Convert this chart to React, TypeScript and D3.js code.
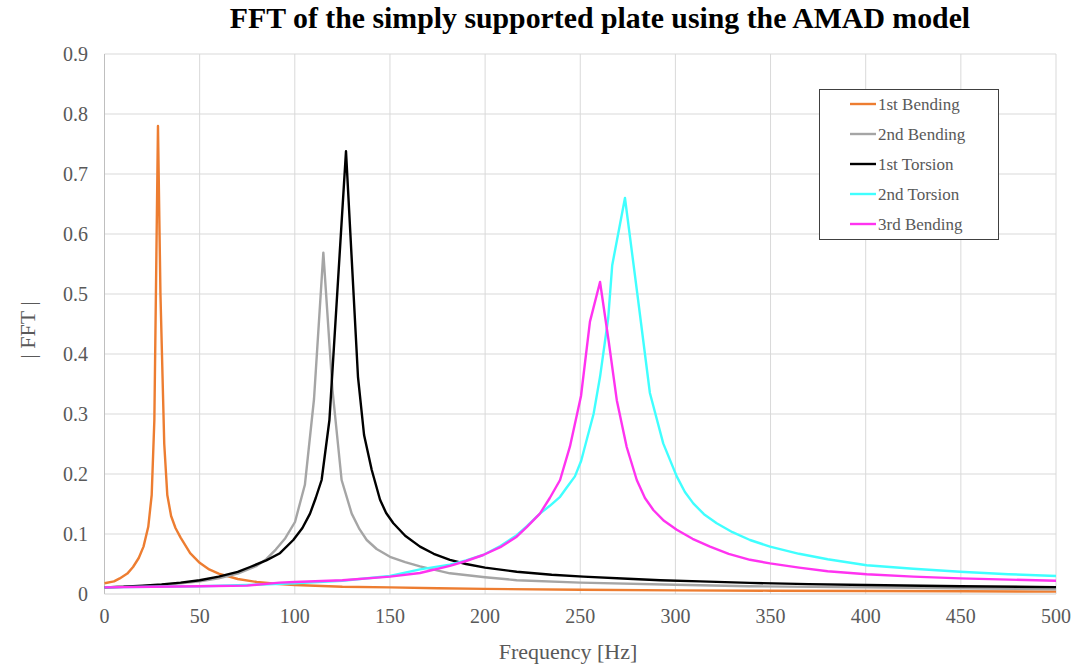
import React from 'react'
import * as d3 from 'd3'

// [frequency (Hz), |FFT|]
const firstBending = [
  [0, 0.018], [5, 0.021], [8, 0.026], [12, 0.034], [15, 0.045], [18, 0.06], [20.5, 0.079],
  [23, 0.112], [24.8, 0.165], [26.2, 0.29], [28.1, 0.78], [29.4, 0.5], [31.4, 0.25],
  [33, 0.165], [35, 0.13], [37.3, 0.11], [40, 0.094], [45, 0.068], [50, 0.052], [55, 0.041],
  [60, 0.034], [70, 0.025], [80, 0.02], [90, 0.017], [100, 0.015], [125, 0.012], [150, 0.011],
  [175, 0.0095], [200, 0.0085], [250, 0.007], [300, 0.006], [350, 0.0055], [400, 0.005],
  [450, 0.0045], [500, 0.004],
]

const secondBending = [
  [0, 0.011], [10, 0.012], [20, 0.013], [30, 0.015], [40, 0.018], [50, 0.021], [60, 0.026],
  [70, 0.034], [80, 0.047], [85, 0.058], [90, 0.074], [95, 0.093], [100.1, 0.12],
  [105.3, 0.182], [110.1, 0.325], [115, 0.569], [119.8, 0.34], [124.6, 0.19], [129.9, 0.134],
  [134, 0.108], [137.8, 0.09], [143, 0.075], [150, 0.062], [158, 0.053], [165.8, 0.046],
  [181.5, 0.0345], [200, 0.028], [216.6, 0.023], [250, 0.019], [300, 0.0155], [339, 0.013],
  [400, 0.011], [450, 0.0095], [500, 0.008],
]

const firstTorsion = [
  [0, 0.011], [10, 0.012], [20, 0.014], [30, 0.016], [40, 0.019], [50, 0.023], [60, 0.029],
  [70, 0.037], [76.5, 0.045], [85, 0.056], [92.2, 0.068], [99.2, 0.09], [104, 0.11],
  [108, 0.134], [111, 0.16], [114.1, 0.19], [118.2, 0.29], [126.9, 0.738], [133.2, 0.362],
  [136.4, 0.265], [140.4, 0.207], [144.8, 0.157], [148, 0.135], [151.8, 0.118], [158, 0.097],
  [165.8, 0.079], [173, 0.067], [181.5, 0.057], [190, 0.05], [200, 0.044], [216.6, 0.037],
  [235, 0.032], [251.6, 0.029], [275, 0.0255], [292, 0.023], [313, 0.021], [339, 0.0185],
  [370, 0.0165], [400, 0.015], [450, 0.013], [500, 0.0115],
]

const secondTorsion = [
  [0, 0.011], [25, 0.012], [50, 0.013], [75, 0.015], [100, 0.018], [125, 0.022], [150, 0.03],
  [165.8, 0.041], [181.5, 0.049], [190, 0.056], [199, 0.065], [208, 0.08], [216.6, 0.098],
  [222, 0.113], [228.8, 0.134], [234, 0.147], [239.4, 0.162], [243, 0.178], [247.2, 0.196],
  [250.5, 0.222], [253.4, 0.257], [257, 0.3], [260.4, 0.362], [264.7, 0.46], [266.8, 0.548],
  [273.5, 0.66], [280, 0.5], [286.6, 0.335], [293.6, 0.251], [300.7, 0.196], [305, 0.17],
  [309.4, 0.151], [315, 0.133], [321.7, 0.118], [330, 0.103], [339.2, 0.09], [349.7, 0.079],
  [365, 0.067], [380, 0.058], [400.5, 0.048], [425, 0.042], [449.6, 0.037], [475, 0.033],
  [500, 0.03],
]

const thirdBending = [
  [0, 0.011], [25, 0.012], [50, 0.013], [75, 0.014], [92, 0.019], [100, 0.02], [125, 0.023],
  [150, 0.029], [165.8, 0.035], [181.5, 0.047], [190, 0.055], [199, 0.065], [208, 0.078],
  [216.6, 0.0955], [222, 0.112], [228.8, 0.134], [234, 0.16], [239.4, 0.19], [244.6, 0.246],
  [250.4, 0.33], [255.1, 0.454], [260.4, 0.52], [265, 0.42], [269.2, 0.323], [274.4, 0.245],
  [279.7, 0.19], [284, 0.16], [288.4, 0.14], [294, 0.122], [300.7, 0.107], [309, 0.092],
  [318.2, 0.079], [328, 0.067], [339.2, 0.057], [349.7, 0.051], [365, 0.044], [380, 0.038],
  [400.5, 0.033], [425, 0.029], [449.6, 0.026], [475, 0.024], [500, 0.022],
]

const seriesNames = ['1st Bending', '2nd Bending', '1st Torsion', '2nd Torsion', '3rd Bending']
const seriesColors = ['#ed7d31', '#a5a5a5', '#000000', '#40ffff', '#ff33f0']
const seriesData = [firstBending, secondBending, firstTorsion, secondTorsion, thirdBending]

const xTicks = [0, 50, 100, 150, 200, 250, 300, 350, 400, 450, 500]
const yTicks = [0, 0.1, 0.2, 0.3, 0.4, 0.5, 0.6, 0.7, 0.8, 0.9]

const WIDTH = 1073
const HEIGHT = 665
const margin = { top: 54, right: 17, bottom: 71, left: 104.5 }
const FONT = '"Liberation Serif", "Times New Roman", serif'
const TEXT_GREY = '#595959'

export default function App() {
  const x = d3.scaleLinear().domain([0, 500]).range([margin.left, WIDTH - margin.right])
  const y = d3.scaleLinear().domain([0, 0.9]).range([HEIGHT - margin.bottom, margin.top])
  const line = d3
    .line()
    .x(d => x(d[0]))
    .y(d => y(d[1]))

  const legend = { x: 819.5, y: 89.5, w: 179, h: 150, row: 30 }

  return (
    <svg
      width={WIDTH}
      height={HEIGHT}
      style={{ position: 'absolute', left: 0, top: 0, background: '#fff' }}
      fontFamily={FONT}
    >
      <rect width={WIDTH} height={HEIGHT} fill="#fff" />
      <text
        x={600}
        y={28}
        textAnchor="middle"
        fontSize={29.8}
        fontWeight="bold"
        fill="#000"
      >
        FFT of the simply supported plate using the AMAD model
      </text>

      {/* grid */}
      {yTicks.slice(1).map(t => (
        <line key={'gy' + t} x1={x(0)} x2={x(500)} y1={y(t)} y2={y(t)} stroke="#d9d9d9" />
      ))}
      {xTicks.slice(1).map(t => (
        <line key={'gx' + t} x1={x(t)} x2={x(t)} y1={y(0)} y2={y(0.9)} stroke="#d9d9d9" />
      ))}
      <line x1={x(0)} x2={x(0)} y1={y(0)} y2={y(0.9)} stroke="#bfbfbf" />
      <line x1={x(0)} x2={x(500)} y1={y(0)} y2={y(0)} stroke="#d0d0d0" />

      {/* tick labels */}
      {yTicks.map(t => (
        <text
          key={'ly' + t}
          x={88}
          y={y(t)}
          dy="0.35em"
          textAnchor="end"
          fontSize={20}
          fill={TEXT_GREY}
        >
          {t === 0 ? '0' : d3.format('.1f')(t)}
        </text>
      ))}
      {xTicks.map(t => (
        <text
          key={'lx' + t}
          x={x(t)}
          y={623}
          textAnchor="middle"
          fontSize={20}
          fill={TEXT_GREY}
        >
          {t}
        </text>
      ))}

      {/* axis titles */}
      <text x={568} y={659} textAnchor="middle" fontSize={22} fill={TEXT_GREY}>
        Frequency [Hz]
      </text>
      <text
        transform={`translate(35,${y(0.44)}) rotate(-90)`}
        textAnchor="middle"
        fontSize={22}
        fill={TEXT_GREY}
      >
        | FFT |
      </text>

      {/* series */}
      {seriesData.map((s, i) => (
        <path
          key={seriesNames[i]}
          d={line(s)}
          fill="none"
          stroke={seriesColors[i]}
          strokeWidth={2.4}
          strokeLinejoin="round"
        />
      ))}

      {/* legend */}
      <rect
        x={legend.x}
        y={legend.y}
        width={legend.w}
        height={legend.h}
        fill="#fff"
        stroke="#404040"
      />
      {seriesNames.map((name, i) => {
        const cy = 104 + i * legend.row
        return (
          <g key={'lg' + name}>
            <line x1={850} x2={876} y1={cy} y2={cy} stroke={seriesColors[i]} strokeWidth={2.4} />
            <text x={878} y={cy} dy="0.35em" fontSize={17} fill={TEXT_GREY}>
              {name}
            </text>
          </g>
        )
      })}
    </svg>
  )
}
